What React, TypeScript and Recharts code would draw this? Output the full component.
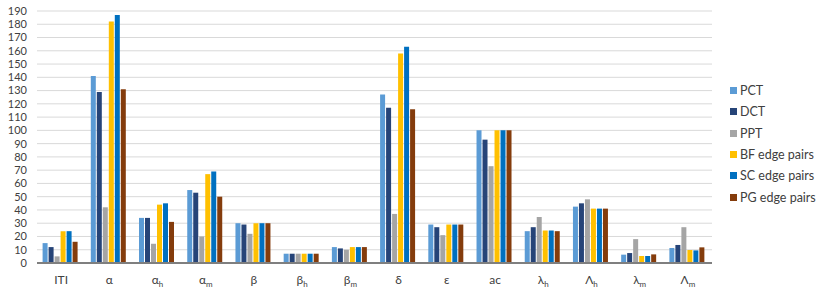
import React from 'react';
import { BarChart, Bar, XAxis, YAxis, CartesianGrid, Legend } from 'recharts';

// categories: "_" separates the subscript
const categories = ['ITI', 'α', 'α_h', 'α_m', 'β', 'β_h', 'β_m', 'δ', 'ε', 'ac', 'λ_h', 'Λ_h', 'λ_m', 'Λ_m'];

const pct = [15, 141, 34, 55, 30, 7, 12, 127, 29, 100, 24, 42.5, 6.3, 11.3];
const dct = [12, 129, 34, 53, 29, 7, 11, 117, 27, 93, 27, 45, 7.5, 13.6];
const ppt = [5, 42, 14.5, 20, 22, 7, 10, 37, 21, 73, 34.7, 48, 18, 27];
const bfPairs = [24, 182, 44, 67, 30, 7, 12, 158, 29, 100, 24.5, 41, 5.3, 9.8];
const scPairs = [24, 187, 45, 69, 30, 7, 12, 163, 29, 100, 24.5, 41, 5.3, 9.5];
const pgPairs = [16, 131, 31, 50, 30, 7, 12, 116, 29, 100, 24, 41, 6.5, 11.8];

const yTicks = [0, 10, 20, 30, 40, 50, 60, 70, 80, 90, 100, 110, 120, 130, 140, 150, 160, 170, 180, 190];

const series = [
  { key: 'pct', name: 'PCT', color: '#5B9BD5', values: pct },
  { key: 'dct', name: 'DCT', color: '#264478', values: dct },
  { key: 'ppt', name: 'PPT', color: '#A5A5A5', values: ppt },
  { key: 'bf', name: 'BF edge pairs', color: '#FFC000', values: bfPairs },
  { key: 'sc', name: 'SC edge pairs', color: '#0070C0', values: scPairs },
  { key: 'pg', name: 'PG edge pairs', color: '#843C0C', values: pgPairs },
];

const data = categories.map((c, i) => {
  const row: Record<string, string | number> = { name: c };
  series.forEach((s) => {
    row[s.key] = s.values[i];
  });
  return row;
});

const FONT = 'Lato, "Liberation Sans", sans-serif';

const CategoryTick = (props: any) => {
  const { x, y, payload } = props;
  const [base, sub] = String(payload.value).split('_');
  return (
    <text x={x} y={y + 13} textAnchor="middle" fill="#404040" fontSize={12} fontFamily={FONT}>
      <tspan>{base}</tspan>
      {sub && (
        <tspan dy={3} fontSize={8}>
          {sub}
        </tspan>
      )}
    </text>
  );
};

const LegendBox = () => (
  <div style={{ fontFamily: FONT, fontSize: 12.5, color: '#404040' }}>
    {series.map((s) => (
      <div key={s.key} style={{ display: 'flex', alignItems: 'center', height: 21.3 }}>
        <span style={{ width: 7, height: 7, background: s.color, marginRight: 3, display: 'inline-block' }} />
        <span>{s.name}</span>
      </div>
    ))}
  </div>
);

export default function App() {
  return (
    <div style={{ position: 'absolute', left: 0, top: 0, width: 818, height: 307, background: '#fff' }}>
      <BarChart
        width={818}
        height={307}
        data={data}
        margin={{ top: 11, right: 18, left: 0, bottom: 34 }}
        barCategoryGap="11.6%"
        barGap={1}
      >
        <CartesianGrid vertical={false} stroke="#d9d9d9" strokeWidth={1} />
        <XAxis
          dataKey="name"
          tick={<CategoryTick />}
          tickLine={false}
          axisLine={{ stroke: '#7f7f7f', strokeWidth: 2 }}
          interval={0}
          height={10}
        />
        <YAxis
          width={37}
          domain={[0, 190]}
          ticks={yTicks}
          interval={0}
          tickLine={false}
          axisLine={false}
          tick={{ fill: '#404040', fontSize: 11, fontFamily: FONT }}
          tickMargin={4}
        />
        <Legend
          layout="vertical"
          align="right"
          verticalAlign="middle"
          width={88}
          wrapperStyle={{ left: 730, top: 80 }}
          content={<LegendBox />}
        />
        {series.map((s) => (
          <Bar key={s.key} dataKey={s.key} name={s.name} fill={s.color} isAnimationActive={false} />
        ))}
      </BarChart>
    </div>
  );
}
